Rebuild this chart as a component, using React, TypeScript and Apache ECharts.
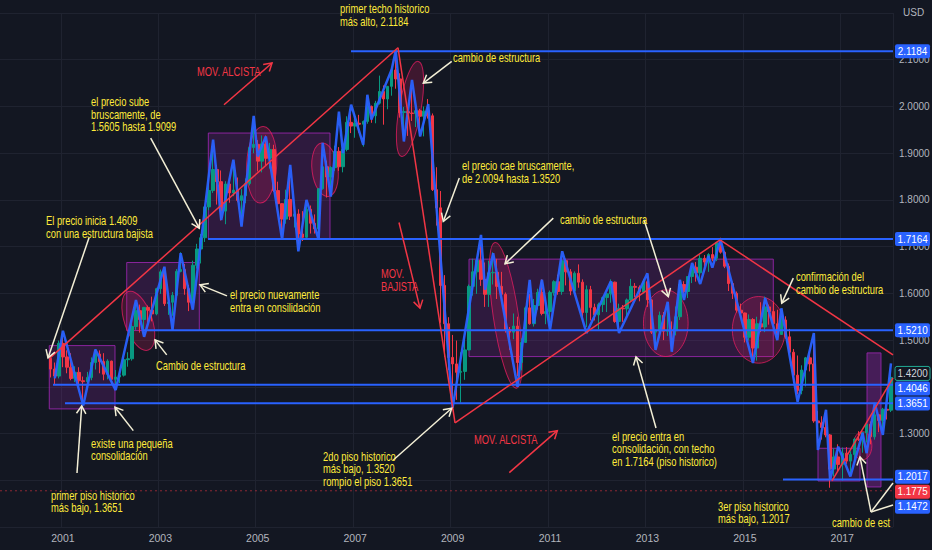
import React, { useEffect, useRef } from "react";
import * as echarts from "echarts";

// ---------------- data ----------------
// monthly candles: [month, open, high, low, close]
const candles: [string, number, number, number, number][] = [
  ["2000-10", 1.4609, 1.468, 1.42, 1.438], ["2000-11", 1.438, 1.452, 1.405, 1.423], ["2000-12", 1.423, 1.499, 1.418, 1.493],
  ["2001-01", 1.493, 1.505, 1.442, 1.464], ["2001-02", 1.464, 1.478, 1.429, 1.442], ["2001-03", 1.442, 1.472, 1.414, 1.418],
  ["2001-04", 1.418, 1.444, 1.41, 1.431], ["2001-05", 1.431, 1.442, 1.406, 1.413], ["2001-06", 1.413, 1.422, 1.369, 1.411],
  ["2001-07", 1.411, 1.432, 1.398, 1.42], ["2001-08", 1.42, 1.463, 1.414, 1.452], ["2001-09", 1.452, 1.481, 1.437, 1.47],
  ["2001-10", 1.47, 1.478, 1.429, 1.454], ["2001-11", 1.454, 1.472, 1.414, 1.427], ["2001-12", 1.427, 1.459, 1.416, 1.455],
  ["2002-01", 1.455, 1.456, 1.405, 1.416], ["2002-02", 1.416, 1.436, 1.406, 1.421], ["2002-03", 1.421, 1.434, 1.408, 1.425],
  ["2002-04", 1.425, 1.463, 1.422, 1.458], ["2002-05", 1.458, 1.474, 1.443, 1.46], ["2002-06", 1.46, 1.534, 1.456, 1.529],
  ["2002-07", 1.529, 1.58, 1.522, 1.563], ["2002-08", 1.563, 1.576, 1.516, 1.544], ["2002-09", 1.544, 1.571, 1.523, 1.57],
  ["2002-10", 1.57, 1.574, 1.537, 1.564], ["2002-11", 1.564, 1.593, 1.54, 1.556], ["2002-12", 1.556, 1.612, 1.553, 1.61],
  ["2003-01", 1.61, 1.651, 1.599, 1.646], ["2003-02", 1.646, 1.649, 1.573, 1.578], ["2003-03", 1.578, 1.59, 1.554, 1.581],
  ["2003-04", 1.581, 1.603, 1.552, 1.596], ["2003-05", 1.596, 1.652, 1.594, 1.647], ["2003-06", 1.647, 1.688, 1.645, 1.651],
  ["2003-07", 1.651, 1.663, 1.597, 1.61], ["2003-08", 1.61, 1.618, 1.562, 1.581], ["2003-09", 1.581, 1.67, 1.577, 1.66],
  ["2003-10", 1.66, 1.706, 1.653, 1.695], ["2003-11", 1.695, 1.727, 1.664, 1.719], ["2003-12", 1.719, 1.786, 1.71, 1.785],
  ["2004-01", 1.785, 1.854, 1.778, 1.82], ["2004-02", 1.82, 1.905, 1.815, 1.865], ["2004-03", 1.865, 1.875, 1.79, 1.839],
  ["2004-04", 1.839, 1.863, 1.756, 1.776], ["2004-05", 1.776, 1.84, 1.748, 1.834], ["2004-06", 1.834, 1.847, 1.794, 1.815],
  ["2004-07", 1.815, 1.872, 1.808, 1.821], ["2004-08", 1.821, 1.848, 1.795, 1.799], ["2004-09", 1.799, 1.823, 1.76, 1.809],
  ["2004-10", 1.809, 1.846, 1.793, 1.835], ["2004-11", 1.835, 1.915, 1.831, 1.912], ["2004-12", 1.912, 1.955, 1.9, 1.919],
  ["2005-01", 1.919, 1.928, 1.861, 1.883], ["2005-02", 1.883, 1.938, 1.859, 1.92], ["2005-03", 1.92, 1.938, 1.874, 1.889],
  ["2005-04", 1.889, 1.922, 1.867, 1.908], ["2005-05", 1.908, 1.918, 1.817, 1.82], ["2005-06", 1.82, 1.839, 1.79, 1.792],
  ["2005-07", 1.792, 1.793, 1.719, 1.759], ["2005-08", 1.759, 1.822, 1.749, 1.801], ["2005-09", 1.801, 1.847, 1.757, 1.765],
  ["2005-10", 1.765, 1.787, 1.741, 1.77], ["2005-11", 1.77, 1.78, 1.705, 1.727], ["2005-12", 1.727, 1.776, 1.712, 1.72],
  ["2006-01", 1.72, 1.79, 1.715, 1.78], ["2006-02", 1.78, 1.788, 1.728, 1.75], ["2006-03", 1.75, 1.769, 1.728, 1.738],
  ["2006-04", 1.738, 1.825, 1.73, 1.824], ["2006-05", 1.824, 1.899, 1.822, 1.871], ["2006-06", 1.871, 1.884, 1.805, 1.849],
  ["2006-07", 1.849, 1.872, 1.816, 1.869], ["2006-08", 1.869, 1.916, 1.862, 1.904], ["2006-09", 1.904, 1.913, 1.862, 1.871],
  ["2006-10", 1.871, 1.913, 1.859, 1.908], ["2006-11", 1.908, 1.979, 1.904, 1.966], ["2006-12", 1.966, 1.985, 1.943, 1.958],
  ["2007-01", 1.958, 1.985, 1.933, 1.964], ["2007-02", 1.964, 1.982, 1.944, 1.962], ["2007-03", 1.962, 1.97, 1.914, 1.968],
  ["2007-04", 1.968, 2.013, 1.963, 2.0], ["2007-05", 2.0, 2.002, 1.965, 1.98], ["2007-06", 1.98, 2.012, 1.964, 2.007],
  ["2007-07", 2.007, 2.066, 2.004, 2.032], ["2007-08", 2.032, 2.045, 1.961, 2.016], ["2007-09", 2.016, 2.044, 1.994, 2.043],
  ["2007-10", 2.043, 2.083, 2.023, 2.078], ["2007-11", 2.078, 2.116, 2.038, 2.059], ["2007-12", 2.059, 2.071, 1.976, 1.987],
  ["2008-01", 1.987, 1.999, 1.936, 1.989], ["2008-02", 1.989, 1.998, 1.937, 1.986], ["2008-03", 1.986, 2.04, 1.969, 1.985],
  ["2008-04", 1.985, 2.0, 1.956, 1.991], ["2008-05", 1.991, 1.995, 1.936, 1.979], ["2008-06", 1.979, 2.0, 1.936, 1.99],
  ["2008-07", 1.99, 2.016, 1.974, 1.98], ["2008-08", 1.98, 1.985, 1.819, 1.822], ["2008-09", 1.822, 1.87, 1.745, 1.783],
  ["2008-10", 1.783, 1.819, 1.537, 1.617], ["2008-11", 1.617, 1.639, 1.464, 1.535], ["2008-12", 1.535, 1.549, 1.436, 1.463],
  ["2009-01", 1.463, 1.511, 1.35, 1.449], ["2009-02", 1.449, 1.499, 1.372, 1.431], ["2009-03", 1.431, 1.474, 1.366, 1.433],
  ["2009-04", 1.433, 1.501, 1.415, 1.479], ["2009-05", 1.479, 1.619, 1.478, 1.615], ["2009-06", 1.615, 1.674, 1.595, 1.646],
  ["2009-07", 1.646, 1.674, 1.599, 1.671], ["2009-08", 1.671, 1.704, 1.616, 1.63], ["2009-09", 1.63, 1.666, 1.571, 1.598],
  ["2009-10", 1.598, 1.67, 1.571, 1.644], ["2009-11", 1.644, 1.688, 1.619, 1.645], ["2009-12", 1.645, 1.674, 1.588, 1.615],
  ["2010-01", 1.615, 1.646, 1.583, 1.598], ["2010-02", 1.598, 1.602, 1.516, 1.522], ["2010-03", 1.522, 1.528, 1.479, 1.517],
  ["2010-04", 1.517, 1.557, 1.502, 1.53], ["2010-05", 1.53, 1.55, 1.423, 1.452], ["2010-06", 1.452, 1.504, 1.435, 1.495],
  ["2010-07", 1.495, 1.572, 1.494, 1.569], ["2010-08", 1.569, 1.599, 1.533, 1.535], ["2010-09", 1.535, 1.588, 1.529, 1.574],
  ["2010-10", 1.574, 1.61, 1.565, 1.602], ["2010-11", 1.602, 1.63, 1.553, 1.557], ["2010-12", 1.557, 1.586, 1.534, 1.561],
  ["2011-01", 1.561, 1.606, 1.53, 1.602], ["2011-02", 1.602, 1.628, 1.595, 1.625], ["2011-03", 1.625, 1.64, 1.597, 1.604],
  ["2011-04", 1.604, 1.674, 1.597, 1.67], ["2011-05", 1.67, 1.674, 1.617, 1.646], ["2011-06", 1.646, 1.652, 1.596, 1.605],
  ["2011-07", 1.605, 1.647, 1.599, 1.643], ["2011-08", 1.643, 1.662, 1.612, 1.624], ["2011-09", 1.624, 1.63, 1.539, 1.559],
  ["2011-10", 1.559, 1.617, 1.528, 1.608], ["2011-11", 1.608, 1.616, 1.542, 1.57], ["2011-12", 1.57, 1.578, 1.542, 1.554],
  ["2012-01", 1.554, 1.58, 1.523, 1.576], ["2012-02", 1.576, 1.593, 1.56, 1.591], ["2012-03", 1.591, 1.601, 1.56, 1.599],
  ["2012-04", 1.599, 1.63, 1.58, 1.624], ["2012-05", 1.624, 1.625, 1.537, 1.54], ["2012-06", 1.54, 1.578, 1.527, 1.568],
  ["2012-07", 1.568, 1.575, 1.539, 1.567], ["2012-08", 1.567, 1.589, 1.549, 1.586], ["2012-09", 1.586, 1.631, 1.582, 1.615],
  ["2012-10", 1.615, 1.622, 1.592, 1.613], ["2012-11", 1.613, 1.617, 1.583, 1.603], ["2012-12", 1.603, 1.631, 1.6, 1.625],
  ["2013-01", 1.625, 1.638, 1.571, 1.586], ["2013-02", 1.586, 1.588, 1.513, 1.517], ["2013-03", 1.517, 1.523, 1.483, 1.519],
  ["2013-04", 1.519, 1.561, 1.511, 1.553], ["2013-05", 1.553, 1.56, 1.5, 1.519], ["2013-06", 1.519, 1.575, 1.509, 1.521],
  ["2013-07", 1.521, 1.54, 1.481, 1.52], ["2013-08", 1.52, 1.572, 1.51, 1.55], ["2013-09", 1.55, 1.626, 1.543, 1.619],
  ["2013-10", 1.619, 1.626, 1.589, 1.604], ["2013-11", 1.604, 1.637, 1.59, 1.636], ["2013-12", 1.636, 1.66, 1.622, 1.656],
  ["2014-01", 1.656, 1.667, 1.625, 1.644], ["2014-02", 1.644, 1.682, 1.625, 1.675], ["2014-03", 1.675, 1.682, 1.646, 1.667],
  ["2014-04", 1.667, 1.686, 1.646, 1.683], ["2014-05", 1.683, 1.699, 1.669, 1.675], ["2014-06", 1.675, 1.71, 1.669, 1.709],
  ["2014-07", 1.709, 1.719, 1.685, 1.688], ["2014-08", 1.688, 1.69, 1.654, 1.658], ["2014-09", 1.658, 1.664, 1.605, 1.621],
  ["2014-10", 1.621, 1.625, 1.588, 1.6], ["2014-11", 1.6, 1.604, 1.559, 1.564], ["2014-12", 1.564, 1.578, 1.548, 1.558],
  ["2015-01", 1.558, 1.559, 1.495, 1.506], ["2015-02", 1.506, 1.555, 1.499, 1.544], ["2015-03", 1.544, 1.547, 1.463, 1.483],
  ["2015-04", 1.483, 1.55, 1.456, 1.535], ["2015-05", 1.535, 1.581, 1.517, 1.528], ["2015-06", 1.528, 1.593, 1.517, 1.571],
  ["2015-07", 1.571, 1.576, 1.533, 1.561], ["2015-08", 1.561, 1.582, 1.533, 1.535], ["2015-09", 1.535, 1.565, 1.511, 1.512],
  ["2015-10", 1.512, 1.551, 1.511, 1.543], ["2015-11", 1.543, 1.551, 1.503, 1.507], ["2015-12", 1.507, 1.524, 1.472, 1.474],
  ["2016-01", 1.474, 1.481, 1.408, 1.425], ["2016-02", 1.425, 1.467, 1.384, 1.392], ["2016-03", 1.392, 1.446, 1.384, 1.436],
  ["2016-04", 1.436, 1.464, 1.401, 1.462], ["2016-05", 1.462, 1.477, 1.433, 1.449], ["2016-06", 1.449, 1.502, 1.323, 1.327],
  ["2016-07", 1.327, 1.348, 1.28, 1.323], ["2016-08", 1.323, 1.337, 1.287, 1.313], ["2016-09", 1.313, 1.345, 1.292, 1.297],
  ["2016-10", 1.297, 1.299, 1.184, 1.224], ["2016-11", 1.224, 1.268, 1.208, 1.25], ["2016-12", 1.25, 1.277, 1.22, 1.234],
  ["2017-01", 1.234, 1.27, 1.199, 1.258], ["2017-02", 1.258, 1.271, 1.235, 1.241], ["2017-03", 1.241, 1.262, 1.211, 1.255],
  ["2017-04", 1.255, 1.291, 1.236, 1.288], ["2017-05", 1.288, 1.305, 1.284, 1.287], ["2017-06", 1.287, 1.303, 1.259, 1.302],
  ["2017-07", 1.302, 1.321, 1.281, 1.32], ["2017-08", 1.32, 1.326, 1.277, 1.293], ["2017-09", 1.293, 1.366, 1.287, 1.34],
  ["2017-10", 1.34, 1.342, 1.303, 1.328], ["2017-11", 1.328, 1.355, 1.306, 1.352], ["2017-12", 1.352, 1.355, 1.33, 1.35],
  ["2018-01", 1.35, 1.435, 1.346, 1.42],
];

// first month shown on the time axis (empty lead-in before the first candle)
const axisStartMonth = "1999-10";

// blue zig-zag drawing: [month, price]
const zigzag: [string, number][] = [
  ["2000-11", 1.418], ["2001-01", 1.52], ["2001-06", 1.36], ["2001-09", 1.48], ["2002-02", 1.393],
  ["2002-07", 1.586], ["2002-09", 1.507], ["2003-02", 1.657], ["2003-04", 1.522], ["2003-06", 1.686],
  ["2003-09", 1.565], ["2004-02", 1.929], ["2004-04", 1.757], ["2004-07", 1.886], ["2004-09", 1.743],
  ["2004-12", 1.98], ["2005-01", 1.893], ["2005-03", 1.936], ["2005-07", 1.715], ["2005-09", 1.875],
  ["2005-11", 1.69], ["2006-01", 1.8], ["2006-04", 1.715], ["2006-05", 1.922], ["2006-07", 1.807],
  ["2006-09", 1.989], ["2006-10", 1.9], ["2006-12", 2.004], ["2007-03", 1.918], ["2007-04", 2.025],
  ["2007-05", 1.972], ["2007-10", 2.079], ["2007-11", 2.12], ["2008-01", 1.925], ["2008-03", 2.057],
  ["2008-05", 1.936], ["2008-07", 2.005], ["2009-01", 1.355], ["2009-08", 1.725], ["2009-09", 1.608],
  ["2009-11", 1.686], ["2010-05", 1.4], ["2010-08", 1.629], ["2010-09", 1.536], ["2010-11", 1.629],
  ["2011-01", 1.522], ["2011-04", 1.69], ["2011-10", 1.515], ["2012-04", 1.626], ["2012-06", 1.515],
  ["2013-01", 1.643], ["2013-03", 1.479], ["2013-06", 1.582], ["2013-07", 1.475], ["2013-09", 1.629],
  ["2013-10", 1.586], ["2013-12", 1.665], ["2014-02", 1.62], ["2014-04", 1.68], ["2014-05", 1.655],
  ["2014-07", 1.715], ["2015-03", 1.451], ["2015-06", 1.59], ["2015-09", 1.5], ["2015-10", 1.568],
  ["2016-02", 1.368], ["2016-06", 1.515], ["2016-07", 1.265], ["2016-09", 1.351], ["2016-10", 1.201],
  ["2016-12", 1.272], ["2017-03", 1.208], ["2017-06", 1.301], ["2017-07", 1.258], ["2017-09", 1.365],
  ["2017-11", 1.297], ["2018-01", 1.45],
];

// horizontal levels: [price, from decimal year] (run to the right edge)
const levelLines: [number, number][] = [
  [2.1184, 2006.914], [1.7164, 2003.979], [1.521, 2002.644],
  [1.4046, 2000.796], [1.3651, 2001.043], [1.2017, 2015.783],
];
const alertLevel = 1.1775;
const lastPrice = 1.42;
const priceTags: number[] = [2.1184, 1.7164, 1.521, 1.42, 1.4046, 1.3651, 1.2017, 1.1775, 1.1472];
const yTicksHidden: number[] = [1.1, 1.2, 1.4, 2.2];

// red trend lines: [[year, price], [year, price]]
const trendLines: [number, number][][] = [
  [[2000.735, 1.4619], [2007.879, 2.1257]],
  [[2007.879, 2.1257], [2009.05, 1.3227]],
  [[2009.05, 1.3227], [2014.49, 1.7146]],
  [[2014.49, 1.7146], [2018.042, 1.4683]],
  [[2016.789, 1.1985], [2018.042, 1.4191]],
];

// consolidation boxes: [[year, top price], [year, bottom price]]
const boxes: [number, number][][] = [
  [[2000.72, 1.4882], [2002.069, 1.3527]],
  [[2002.31, 1.666], [2003.8, 1.5204]],
  [[2003.985, 1.9431], [2006.483, 1.7161]],
  [[2009.337, 1.6733], [2015.584, 1.4647]],
  [[2016.502, 1.2685], [2017.364, 1.1985]],
];
const tallBox: [number, number][] = [[2017.508, 1.4726], [2017.795, 1.1857]];

// ellipses: [center, end of major axis, minor half-width in months]
const ellipses: [[number, number], [number, number], number][] = [
  [[2002.548, 1.5413], [2002.342, 1.6039], 3.4],
  [[2005.081, 1.8752], [2005.114, 1.9572], 3.7],
  [[2006.381, 1.8645], [2006.313, 1.9216], 3.2],
  [[2008.126, 1.9947], [2008.296, 2.0964], 2.7],
  [[2010.092, 1.5529], [2009.871, 1.7088], 3.1],
  [[2013.377, 1.5362], [2013.377, 1.6075], 5.5],
  [[2015.285, 1.5219], [2015.285, 1.5932], 6.5],
  [[2017.416, 1.2739], [2017.416, 1.3041], 2.3],
];

// yellow notes: [text, [year, price of first line]]
const notes: [string, [number, number]][] = [
  ["primer techo historico\nmás alto, 2.1184", [2006.689, 2.2092]],
  ["cambio de estructura", [2009.008, 2.1043]],
  ["el precio sube\nbruscamente, de\n1.5605 hasta 1.9099", [2001.577, 2.0101]],
  ["el precio cae bruscamente,\nde 2.0094 hasta 1.3520", [2009.193, 1.873]],
  ["El precio inicia 1.4609\ncon una estructura bajista", [2000.653, 1.7553]],
  ["cambio de estructura", [2011.205, 1.7574]],
  ["el precio nuevamente\nentra en consilidación", [2004.43, 1.5968]],
  ["confirmación del\ncambio de estructura", [2016.05, 1.6354]],
  ["Cambio de estructura", [2002.911, 1.4448]],
  ["existe una pequeña\nconsolidación", [2001.577, 1.2799]],
  ["2do piso historico\nmás bajo, 1.3520\nrompio el piso 1.3651", [2006.34, 1.2521]],
  ["el precio entra en\nconsolidación, con techo\nen 1.7164 (piso historico)", [2012.273, 1.2949]],
  ["primer piso historico\nmás bajo, 1.3651", [2000.755, 1.1685]],
  ["3er piso historico\nmás bajo, 1.2017", [2014.449, 1.145]],
];
const edgeNote: [string, [number, number]] = ["cambio de estructura", [2016.789, 1.1107]];
const redNotes: [string, [number, number]][] = [
  ["MOV. ALCISTA", [2003.753, 2.0743]],
  ["MOV.\nBAJISTA", [2007.53, 1.6418]],
  ["MOV. ALCISTA", [2009.44, 1.2885]],
];

// arrows: [tail, head]
const arrows: [number, number][][] = [
  [[2001.536, 1.7189], [2000.694, 1.4619]],
  [[2002.802, 1.9324], [2003.8, 1.7396]],
  [[2004.369, 1.5947], [2003.814, 1.6182]],
  [[2003.131, 1.4683], [2002.891, 1.5004]],
  [[2002.445, 1.3062], [2002.069, 1.3563]],
  [[2001.289, 1.2157], [2001.386, 1.3591]],
  [[2008.982, 2.0964], [2008.399, 2.0501]],
  [[2009.138, 1.8467], [2008.809, 1.7538]],
  [[2011.068, 1.761], [2010.076, 1.6632]],
  [[2012.93, 1.7574], [2013.429, 1.5932]],
  [[2013.176, 1.312], [2012.765, 1.464]],
  [[2007.783, 1.2435], [2008.982, 1.3542]],
  [[2015.995, 1.6326], [2015.757, 1.579]],
  [[2017.59, 1.1321], [2017.364, 1.2499]],
];
const pointerLines: [number, number][][] = [
  [[2017.59, 1.1321], [2018.042, 1.1942]],
  [[2017.59, 1.1321], [2018.042, 1.1471]],
];
const redArrows: [number, number][][] = [
  [[2004.307, 2.0037], [2005.293, 2.093]],
  [[2010.164, 1.2163], [2011.15, 1.3062]],
  [[2007.9, 1.7516], [2008.331, 1.5683]],
];

// ---------------- styling ----------------
const FONT = '"Liberation Sans", Arial, sans-serif';
const NOTE_SIZE = 13;
const NOTE_SCALE = 0.72;
const BG = "#131722";
const BLUE = "#2962ff";
const RED = "#f23645";
const GREEN = "#089981";
const YELLOW = "#ffeb3b";
const CREAM = "#f3efd6";
const AXIS_TEXT = "#b2b5be";
const GRID_LINE = "#1f2330";

function buildMonths(): string[] {
  const [sy, sm] = axisStartMonth.split("-").map(Number);
  const last = candles[candles.length - 1][0];
  const out: string[] = [];
  let t = sy * 12 + (sm - 1);
  for (;;) {
    const y = Math.floor(t / 12);
    const m = (t % 12) + 1;
    const label = `${y}-${String(m).padStart(2, "0")}`;
    out.push(label);
    if (label === last) break;
    t++;
  }
  return out;
}

export default function App() {
  const ref = useRef<HTMLDivElement>(null);

  useEffect(() => {
    document.body.style.margin = "0";
    const el = ref.current!;
    const chart = echarts.init(el, undefined, { renderer: "svg" });

    const months = buildMonths();
    const byMonth = new Map(candles.map((c) => [c[0], c]));
    const candleData = months.map((m) => {
      const c = byMonth.get(m);
      return c ? [c[1], c[4], c[3], c[2]] : ["-", "-", "-", "-"];
    });
    const isYearLabel = (v: string) => v.endsWith("-01") && Number(v.slice(0, 4)) % 2 === 1;
    const startYear = Number(axisStartMonth.slice(0, 4)) + (Number(axisStartMonth.slice(5, 7)) - 1) / 12;

    chart.setOption({
      animation: false,
      backgroundColor: BG,
      grid: { left: 0, right: 39, top: 13, bottom: 23, containLabel: false, outerBoundsMode: "none" },
      xAxis: {
        type: "category",
        data: months,
        boundaryGap: true,
        axisLine: { show: false },
        axisTick: { show: false },
        axisLabel: {
          interval: (_i: number, v: string) => isYearLabel(v),
          formatter: (v: string) => v.slice(0, 4),
          color: AXIS_TEXT,
          fontSize: 10.5,
          fontFamily: FONT,
          margin: 5,
        },
        splitLine: {
          show: true,
          interval: (_i: number, v: string) => isYearLabel(v),
          lineStyle: { color: GRID_LINE, width: 1 },
        },
      },
      yAxis: {
        type: "value",
        position: "right",
        min: 1.1,
        max: 2.2,
        interval: 0.1,
        axisLine: { show: false },
        axisTick: { show: false },
        axisLabel: {
          color: AXIS_TEXT,
          fontSize: 10,
          fontFamily: FONT,
          margin: 6,
          formatter: (v: number) => (yTicksHidden.some((h) => Math.abs(h - v) < 1e-6) ? "" : v.toFixed(4)),
        },
        splitLine: { lineStyle: { color: GRID_LINE, width: 1 } },
      },
      series: [
        {
          type: "candlestick",
          data: candleData,
          barWidth: 3,
          z: 2,
          itemStyle: { color: GREEN, color0: RED, borderColor: GREEN, borderColor0: RED, borderWidth: 1 },
        },
        {
          type: "line",
          data: zigzag,
          symbol: "none",
          z: 3,
          lineStyle: { color: BLUE, width: 2.5, opacity: 0.95 },
        },
      ],
    });

    // data -> pixel helper (through the chart's own scales)
    const a = chart.convertToPixel({ gridIndex: 0 }, [0, 1.2]) as number[];
    const b = chart.convertToPixel({ gridIndex: 0 }, [10, 2.0]) as number[];
    const bw = (b[0] - a[0]) / 10;
    const pyUnit = (b[1] - a[1]) / 0.8;
    const P = (yr: number, v: number): [number, number] => [
      a[0] + (yr - startYear) * 12 * bw,
      a[1] + (v - 1.2) * pyUnit,
    ];
    const rightYear = startYear + (months.length - 0.5) / 12;
    const leftYear = startYear - 0.5 / 12;
    const rightX = P(rightYear, 1.5)[0];

    const els: any[] = [];

    // boxes
    boxes.forEach(([p1, p2]) => {
      const [x1, y1] = P(p1[0], p1[1]);
      const [x2, y2] = P(p2[0], p2[1]);
      els.push({
        type: "rect", silent: true, z: 1,
        shape: { x: x1, y: y1, width: x2 - x1, height: y2 - y1 },
        style: { fill: "rgba(156,39,176,0.2)", stroke: "rgba(156,39,176,0.85)", lineWidth: 1 },
      });
    });
    {
      const [x1, y1] = P(tallBox[0][0], tallBox[0][1]);
      const [x2, y2] = P(tallBox[1][0], tallBox[1][1]);
      els.push({
        type: "rect", silent: true, z: 1,
        shape: { x: x1, y: y1, width: x2 - x1, height: y2 - y1 },
        style: { fill: "rgba(156,39,176,0.38)", stroke: "rgba(156,39,176,0.85)", lineWidth: 1 },
      });
    }

    // ellipses
    ellipses.forEach(([c, top, minorMonths]) => {
      const [cx, cy] = P(c[0], c[1]);
      const [tx, ty] = P(top[0], top[1]);
      const dx = tx - cx, dy = ty - cy;
      const ry = Math.hypot(dx, dy);
      const rot = Math.atan2(-dx, -dy);
      els.push({
        type: "ellipse", silent: true, z: 1,
        x: cx, y: cy, rotation: rot,
        shape: { cx: 0, cy: 0, rx: minorMonths * bw, ry },
        style: { fill: "rgba(233,30,99,0.2)", stroke: "rgba(233,30,99,0.75)", lineWidth: 1 },
      });
    });

    // level lines
    levelLines.forEach(([v, from]) => {
      const [x1, y] = P(from, v);
      els.push({
        type: "line", silent: true, z: 5,
        shape: { x1, y1: y, x2: rightX, y2: y },
        style: { stroke: BLUE, lineWidth: 2 },
      });
    });
    {
      const [x1, y] = P(leftYear, alertLevel);
      els.push({
        type: "line", silent: true, z: 5,
        shape: { x1, y1: y, x2: rightX, y2: y },
        style: { stroke: "rgba(242,54,69,0.55)", lineWidth: 1, lineDash: [2, 3] },
      });
    }

    // trend lines
    trendLines.forEach(([p1, p2]) => {
      const [x1, y1] = P(p1[0], p1[1]);
      const [x2, y2] = P(p2[0], p2[1]);
      els.push({
        type: "line", silent: true, z: 6,
        shape: { x1, y1, x2, y2 },
        style: { stroke: RED, lineWidth: 1.5 },
      });
    });

    const arrowEls = (t: [number, number], h: [number, number], color: string, head: boolean) => {
      const [tx, ty] = P(t[0], t[1]);
      const [hx, hy] = P(h[0], h[1]);
      const out: any[] = [
        { type: "line", silent: true, z: 15, shape: { x1: tx, y1: ty, x2: hx, y2: hy }, style: { stroke: color, lineWidth: 1.5 } },
      ];
      if (head) {
        const ang = Math.atan2(ty - hy, tx - hx);
        const L = 9, s = 0.55;
        out.push({
          type: "polyline", silent: true, z: 15,
          shape: {
            points: [
              [hx + L * Math.cos(ang + s), hy + L * Math.sin(ang + s)],
              [hx, hy],
              [hx + L * Math.cos(ang - s), hy + L * Math.sin(ang - s)],
            ],
          },
          style: { stroke: color, lineWidth: 1.5, fill: null },
        });
      }
      return out;
    };
    arrows.forEach(([t, h]) => els.push(...arrowEls(t, h, CREAM, true)));
    pointerLines.forEach(([t, h]) => els.push(...arrowEls(t, h, CREAM, false)));
    redArrows.forEach(([t, h]) => els.push(...arrowEls(t, h, RED, true)));

    // notes (condensed look via horizontal scale)
    const LH = 12.5;
    const noteEl = (text: string, at: [number, number], color: string, extra: any = {}) => {
      const [x, y] = P(at[0], at[1]);
      return {
        type: "text", silent: true, z: 20,
        x, y: y - LH / 2, scaleX: NOTE_SCALE,
        style: { text, fill: color, fontSize: NOTE_SIZE, fontFamily: FONT, lineHeight: LH, verticalAlign: "top", align: "left", ...extra },
      };
    };
    notes.forEach(([t, at]) => els.push(noteEl(t, at, YELLOW)));
    redNotes.forEach(([t, at]) => els.push(noteEl(t, at, RED)));
    {
      const x = P(edgeNote[1][0], edgeNote[1][1])[0];
      els.push(noteEl(edgeNote[0], edgeNote[1], YELLOW, { width: (rightX - x) / NOTE_SCALE, overflow: "truncate", ellipsis: "" }));
    }

    // price tags on the right scale (spread so they do not overlap)
    const H = 15;
    const tags = priceTags.map((v) => ({ v, y: P(2000, v)[1], c: 0 })).sort((p, q) => p.y - q.y);
    const groups = tags.map((t) => ({ items: [t], top: t.y - H / 2 }));
    let changed = true;
    while (changed) {
      changed = false;
      for (let i = 0; i < groups.length - 1; i++) {
        const g1 = groups[i], g2 = groups[i + 1];
        if (g1.top + g1.items.length * H > g2.top) {
          const items = [...g1.items, ...g2.items];
          const mean = items.reduce((s, it) => s + it.y, 0) / items.length;
          groups.splice(i, 2, { items, top: mean - (items.length * H) / 2 });
          changed = true;
          break;
        }
      }
    }
    groups.forEach((g) => g.items.forEach((it, k) => (it.c = g.top + k * H + H / 2)));
    tags.forEach((t) => {
      const isLast = Math.abs(t.v - lastPrice) < 1e-9;
      const isAlert = Math.abs(t.v - alertLevel) < 1e-9;
      els.push({
        type: "rect", silent: true, z: 30,
        shape: { x: rightX + 2, y: t.c - 7, width: 35, height: 14, r: 2 },
        style: isLast
          ? { fill: BG, stroke: "#22ab94", lineWidth: 1 }
          : { fill: isAlert ? RED : BLUE, stroke: null },
      });
      els.push({
        type: "text", silent: true, z: 31,
        x: rightX + 2 + 17.5, y: t.c, scaleX: 0.9,
        style: {
          text: t.v.toFixed(4), fill: isLast ? "#d1d4dc" : "#ffffff",
          fontSize: 11, fontFamily: FONT, align: "center", verticalAlign: "middle",
        },
      });
    });
    els.push({
      type: "text", silent: true, z: 31,
      x: rightX + 10, y: 12,
      style: { text: "USD", fill: AXIS_TEXT, fontSize: 10, fontFamily: FONT, align: "left", verticalAlign: "middle" },
    });

    chart.setOption({ graphic: { elements: els } });

    return () => chart.dispose();
  }, []);

  return (
    <div
      ref={ref}
      style={{ position: "fixed", left: 0, top: 0, width: 932, height: 550, background: BG }}
    />
  );
}
